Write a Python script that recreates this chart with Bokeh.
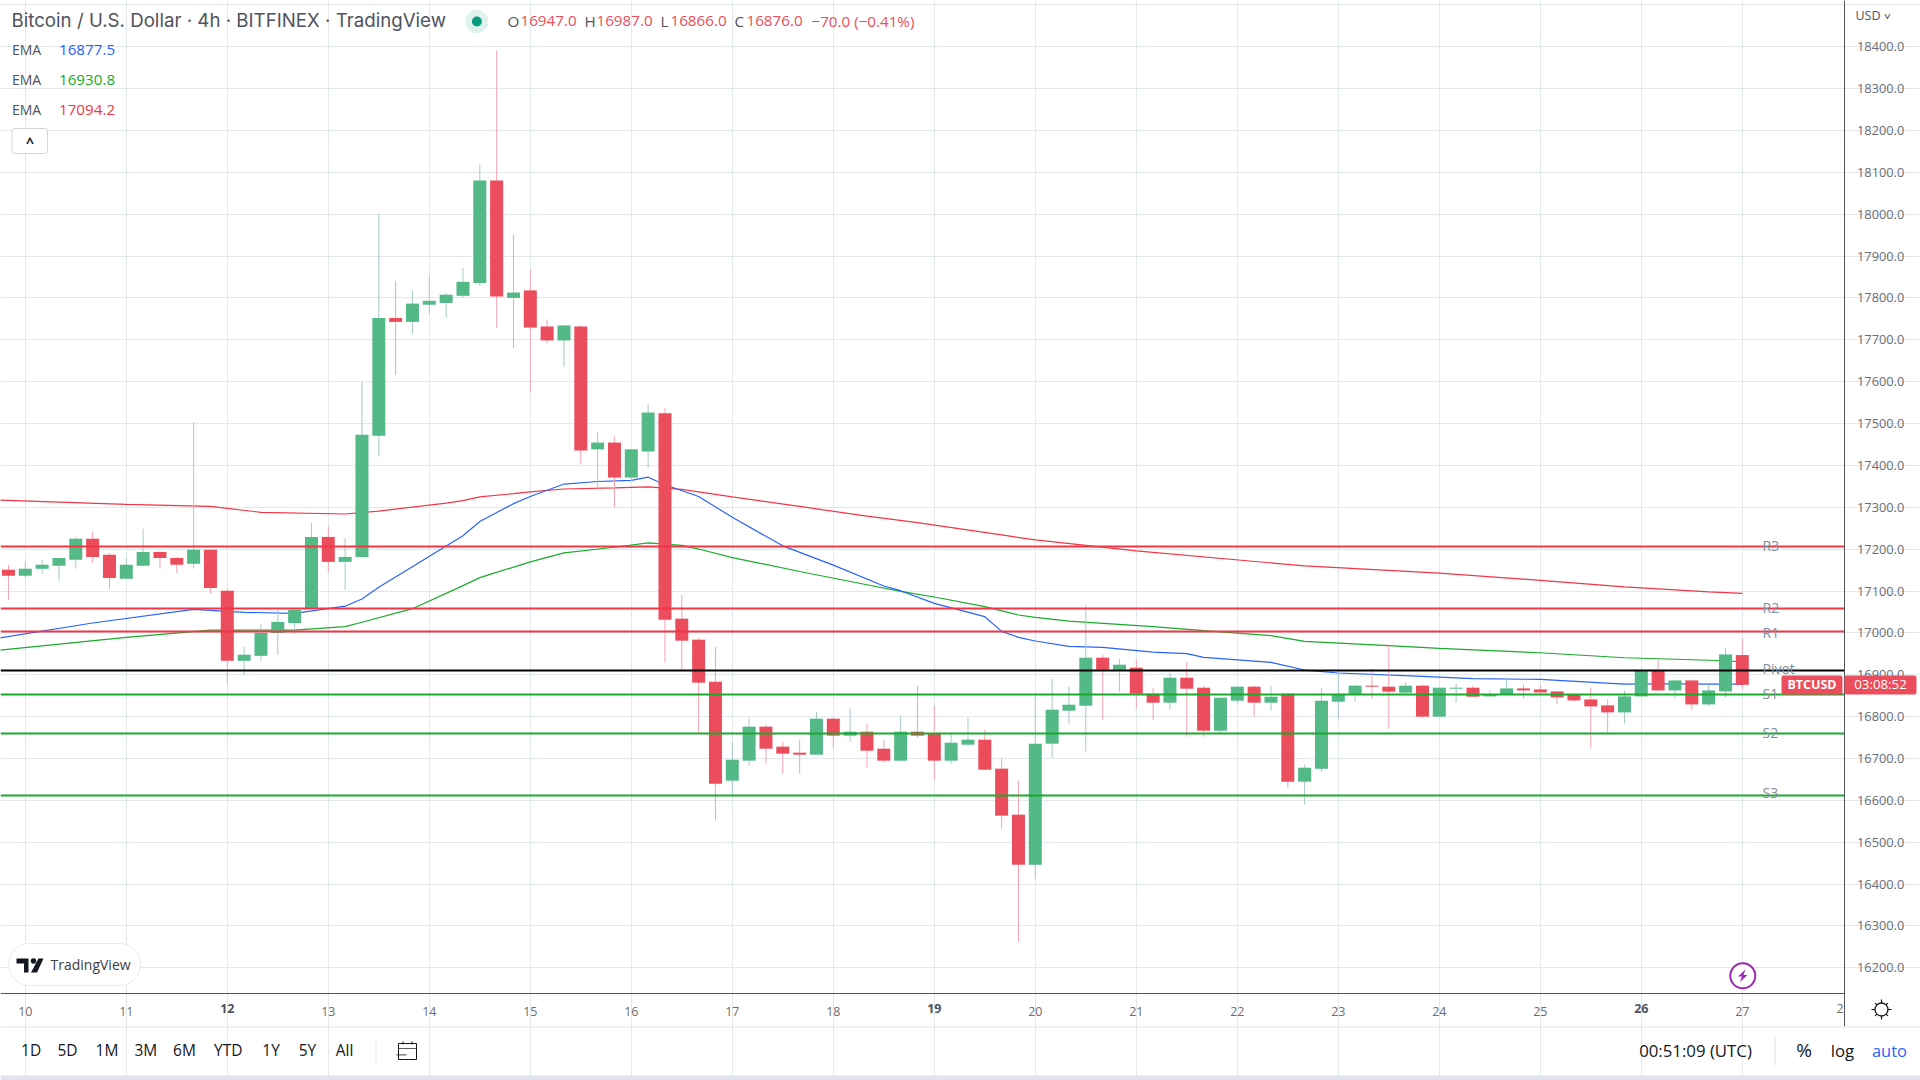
from bokeh.plotting import figure
from bokeh.embed import file_html
from bokeh.resources import INLINE
from bokeh.models import Range1d, FixedTicker, NumeralTickFormatter, Label, BoxAnnotation, PolyAnnotation, ColumnDataSource

# ---------- data ----------
opens = [17150.8,17136.3,17153.4,17160.2,17174.7,17225,17186.6,17129.5,17160.2,17193.5,
 17179,17165.3,17198.6,17100.5,16933.2,16945.2,16999.8,17023.7,17057.8,17229.3,
 17169.6,17181.5,17470.8,17752.3,17742.9,17783.9,17788.1,17805.2,17835.9,18080.9,
 17800.2,17818.1,17731.9,17698.6,17731.9,17438.4,17454.6,17371,17433.3,17524.6,
 17033.9,16983.8,16883.4,16647,16694.8,16776,16728.2,16713.9,16709.1,16795.1,
 16754.5,16764,16723.4,16694.8,16764,16759.2,16694.8,16733,16744.9,16675.7,
 16565.8,16446.3,16735.4,16814.2,16826.1,16940.8,16912.1,16916.9,16854.8,16833.3,
 16893,16869.1,16766.4,16838.1,16871.5,16833.3,16854.8,16644.6,16675.7,16835.7,
 16852.4,16873.9,16871.5,16857.2,16873.9,16799.9,16866.7,16869.1,16848.3,16853.1,
 16867.4,16865,16860.2,16853.1,16841.1,16826.8,16810.1,16848.3,16910.4,16862.6,
 16886.5,16829.2,16860.2,16947]
highs = [17162.8,17172.1,17174.7,17179,17229.3,17241.2,17190.9,17179,17248.9,17196,
 17181.5,17504,17198.6,17105.6,16966.5,17022,17055.2,17055.2,17262.6,17253.2,
 17226.7,17599.6,18000.6,17841,17817.2,17853,17812,17871.8,18120,18391.4,
 17952,17868.4,17749,17734.5,17734.5,17478.5,17469.1,17438.4,17545.9,17538.2,
 17091.3,16988.5,16967.1,16740.1,16795.1,16780.7,16740.1,16744.9,16811.8,16797.5,
 16819,16783.1,16744.9,16802.2,16873.9,16826.1,16759.2,16797.5,16768.8,16701.9,
 16647,16850,16890.6,16871.5,17067.4,16947.9,16938.4,16936,16869.1,16904.9,
 16931.2,16873.9,16845.2,16871.5,16873.9,16873.9,16854.8,16685.2,16869.1,16909.7,
 16876.3,16914.5,16969.4,16881.1,16876.3,16869.1,16878.7,16873.9,16862.6,16893.7,
 16876.9,16874.5,16860.2,16855.4,16869.8,16841.1,16862.6,16915.2,16936.7,16886.5,
 16886.5,16876.9,16965.3,16987]
lows = [17079.1,17132,17141.4,17124.4,17153.4,17167,17105.6,17129.5,17160.2,17153.4,
 17143.1,17153.4,17093.6,16880.3,16900,16933.2,16947.7,16998.1,17057.8,17145.7,
 17103,17179,17421.3,17616.7,17714.8,17762.6,17752.3,17800.1,17829.1,17728.5,
 17680.7,17574.9,17691.8,17634.6,17402.6,17341.2,17300.2,17362.5,17393.2,16929.6,
 16911.3,16761.6,16551.4,16613.5,16682.8,16687.6,16663.7,16663.7,16709.1,16725.8,
 16740.1,16678,16690,16694.8,16749.7,16649.4,16687.6,16730.6,16673.2,16532.3,
 16262.4,16412.9,16701.9,16783.1,16716.2,16792.7,16859.6,16819,16792.7,16816.6,
 16752.1,16752.1,16759.2,16830.9,16799.9,16814.2,16630.3,16589.7,16668.5,16795.1,
 16835.7,16842.8,16771.2,16852.4,16797.5,16799.9,16833.3,16847.6,16848.3,16853.1,
 16843.5,16857.8,16829.2,16836.3,16724.1,16762.3,16783.8,16848.3,16860.2,16843.5,
 16814.8,16824.4,16845.9,16866]
closes = [17136.3,17153.4,17162.8,17179,17225,17181.5,17131.2,17162.8,17193.5,17179,
 17162.8,17198.6,17107.3,16933.2,16947.7,16999.8,17026.2,17055.2,17229.3,17169.6,
 17181.5,17473.3,17752.3,17742.9,17786.5,17793.3,17807.8,17838.5,18080.9,17803.6,
 17813,17729.3,17698.6,17734.5,17435.8,17454.6,17371,17438.4,17526.3,17031.5,
 16981.4,16881.1,16639.8,16697.1,16776,16723.4,16711.5,16709.1,16795.1,16754.5,
 16764,16718.6,16694.8,16764,16754.5,16694.8,16737.7,16744.9,16673.2,16563.4,
 16446.3,16735.4,16816.6,16828.5,16940.8,16912.1,16924.1,16854.8,16833.3,16893,
 16866.7,16766.4,16845.2,16871.5,16833.3,16847.6,16644.6,16678,16838.1,16852.4,
 16873.9,16871.5,16859.6,16873.9,16799.9,16869.1,16869.1,16847.6,16853.1,16867.4,
 16862.6,16857.8,16845.9,16838.7,16824.4,16810.1,16848.3,16910.4,16862.6,16886.5,
 16829.2,16862.6,16948.6,16876]

# EMA vertices: bar number (4h bars after the 10th) and value
ema_red_bar = [-2,6,11,14,19,21,25,26,27,29,30,32,35,37,39,40,42,46,50,53,58,60,66,76,84,90,95,100,102]
ema_red_val = [17318,17307,17302,17288,17284,17291,17310,17316,17325,17332.6,17337,17343.7,17346.2,17348.8,17342.8,
               17337,17325,17302,17279,17263.5,17234,17222,17196,17160,17143,17125.4,17110,17098,17094.2]
ema_green_bar = [-2,6,11,16,19,20,23,26,27,30,32,35,37,39,40,42,46,50,52,54,57,59,60,62,67,70,74,76,81,84,90,95,101,102]
ema_green_val = [16957,16989.5,17006.6,17006.6,17015.1,17025.4,17057.8,17113,17132,17169.6,17191,17204.6,17214.9,17208.9,17200.3,
                 17179.9,17146.6,17115,17099.2,17085.7,17062.6,17042.7,17037,17028,17014.8,17005.3,16993.3,16979.8,16969.4,16962.9,16952.6,16940.6,16933.5,16930.8]
ema_blue_bar = [-2,4,10,13,16,19,20,21,26,27,29,30,32,34,36,37,38,40,42,45,48,51,52,54,57,58,59,60,62,64,67,69,70,74,76,78,83,86,90,95,98,100,102]
ema_blue_val = [16985,17023.7,17056,17049.2,17046.7,17063.8,17080.8,17109,17232,17266,17308.7,17325.8,17355.6,17361.6,17364.2,17371.9,
                17354,17325.8,17276,17208,17162,17112,17100.8,17070.6,17038.7,17003.7,16989.3,16980.6,16968,16965.5,16954.3,16950.3,16941.6,
                16929.6,16911.3,16904.2,16896.2,16890.6,16888.9,16877.7,16878.5,16877.7,16877.5]

pivot_names = ["R3","R2","R1","Pivot","S1","S2","S3"]
pivot_vals  = [17206.4,17058.3,17003.3,16910.2,16852.8,16759.7,16611.6]
pivot_cols  = ["#f23645","#f23645","#f23645","#000000","#1aaa2c","#1aaa2c","#1aaa2c"]
pivot_lab_y = [546,608,632.7,669,694,732.7,793]

price_ticks = list(range(16200,18500,100))
grid_prices = price_ticks+[18500]
day_ticks = list(range(10,28))
plain_days = {d:str(d) for d in day_ticks}
bold_days = [12,19,26]
ranges_ = ["1D","5D","1M","3M","6M","YTD","1Y","5Y","All"]
ranges_x = [30.6,67,106.5,145.3,184,227.8,270.6,307,344]

# ---------- geometry ----------
FONT = "Open Sans"
UP, DN = "#53b987", "#eb4d5c"
UPW, DNW = "#a6c9cb", "#f7a2ae"
GRID = "#e1e8ee"
AX = "#50535e"
W, H = 1920, 1080
PX, PY = 1843.5, 992.5      # axis positions on the page
DAYPX = 101.0
def xd(px): return 10 + (px-24.8)/DAYPX
YSC = 0.41864
def yd(py): return 18400 - (py-46.3)/YSC
def sx(px): return px
def sy(py): return H-py

p = figure(width=W, height=H, output_backend="svg", toolbar_location=None,
           x_range=Range1d(xd(0),xd(W)), y_range=Range1d(yd(H),yd(0)),
           y_axis_location="right", min_border_left=0, min_border_top=0,
           min_border_right=0, min_border_bottom=0, tools="")
p.outline_line_color=None
p.background_fill_color="#ffffff"

p.xaxis.ticker = FixedTicker(ticks=day_ticks)
p.xaxis.major_label_overrides = {d:("" if d in bold_days else s) for d,s in plain_days.items()}
p.xaxis.fixed_location = yd(PY)
p.xaxis.bounds = (xd(0),xd(PX))
p.yaxis.ticker = FixedTicker(ticks=price_ticks)
p.yaxis.formatter = NumeralTickFormatter(format="0.0")
p.yaxis.fixed_location = xd(PX)
p.yaxis.bounds = (yd(1026),yd(0))
for ax in (p.xaxis[0],p.yaxis[0]):
    ax.axis_line_color=AX; ax.axis_line_width=1
    ax.major_tick_line_color=None; ax.minor_tick_line_color=None
    ax.major_label_text_font=FONT
    ax.major_label_text_color="#6a6d78"
p.yaxis.major_label_text_font_size="12.8px"
p.yaxis.major_label_standoff=7
p.xaxis.major_label_text_font_size="12.5px"
p.xaxis.major_label_standoff=8
p.xgrid.ticker=FixedTicker(ticks=day_ticks)
p.ygrid.ticker=FixedTicker(ticks=grid_prices)
p.xgrid.bounds=(yd(PY),yd(0))
p.ygrid.bounds=(xd(0),xd(PX))
p.xgrid.grid_line_color=GRID; p.ygrid.grid_line_color=GRID
p.xgrid.grid_line_width=1; p.ygrid.grid_line_width=1

# ---------- candles ----------
t=[10+(i-1)/6 for i in range(len(opens))]
top=[max(o,c) for o,c in zip(opens,closes)]
bot=[min(o,c) for o,c in zip(opens,closes)]
body=[UP if c>=o else DN for o,c in zip(opens,closes)]
wick=[UPW if c>=o else DNW for o,c in zip(opens,closes)]
src=ColumnDataSource(dict(t=t,h=highs,l=lows,top=top,bot=bot,body=body,wick=wick))

def bt(b): return 10+b/6
p.line([bt(b) for b in ema_red_bar],ema_red_val,line_color="#f23645",line_width=1.2)
p.line([bt(b) for b in ema_green_bar],ema_green_val,line_color="#1aaa2c",line_width=1.2)
p.line([bt(b) for b in ema_blue_bar],ema_blue_val,line_color="#2962ff",line_width=1.2)

p.segment("t","h","t","l",source=src,line_color="wick",line_width=1)
p.vbar(x="t",top="top",bottom="bot",width=13/DAYPX,source=src,fill_color="body",line_color=None)

for v,c in zip(pivot_vals,pivot_cols):
    p.line([xd(0),xd(PX)],[v,v],line_color=c,line_width=2)

# ---------- texts & chrome ----------
def lab(px,py,text,color="#131722",size=14,align="left",bold=False,font=FONT,**kw):
    l=Label(x=sx(px),y=sy(py-1.2),x_units="screen",y_units="screen",text=text,text_color=color,
            text_font_size=f"{size}px",text_align=align,text_baseline="middle",text_font=font,
            text_font_style="bold" if bold else "normal",**kw)
    p.add_layout(l); return l
def box(x0,x1,y0,y1,fill="#ffffff",line=None,radius=0,lw=1,falpha=1):
    b=BoxAnnotation(left=sx(x0),right=sx(x1),top=sy(y0),bottom=sy(y1),
                    left_units="screen",right_units="screen",top_units="screen",bottom_units="screen",
                    fill_color=fill,fill_alpha=falpha,line_color=line,line_alpha=1,line_width=lw,border_radius=radius,level="annotation")
    p.add_layout(b); return b

for name,y in zip(pivot_names,pivot_lab_y):
    lab(1762,y,name,"#7f8ea0",14)

# bold day labels, cut-off label
for d in bold_days:
    p.add_layout(Label(x=d,y=sy(1008),x_units="data",y_units="screen",text=str(d),text_color="#50535e",
                       text_font_size="12.5px",text_font=FONT,text_font_style="bold",text_align="center",text_baseline="middle"))
lab(1836,1009,"2","#6a6d78",12.5)

# separators, bottom band
box(0,1920,1026,1027,fill="#e0e3eb")
box(0,1920,1075,1080,fill="#e0e3eb")
box(375,376,1037,1065,fill="#e0e3eb")
box(1774,1775,1037,1065,fill="#e0e3eb")

# price tag
box(1781,1842,675,694,fill=DN,radius=2)
box(1844,1916,675,694,fill=DN,radius=2)
lab(1811.5,685,"BTCUSD","#ffffff",12.5,"center",bold=True)
lab(1880,685,"03:08:52","#ffffff",13.3,"center")

# header
lab(11,21.5,"Bitcoin / U.S. Dollar \u00b7 4h \u00b7 BITFINEX \u00b7 TradingView","#50535e",18.7,font="Inter")
p.scatter([xd(476.4)],[yd(21)],size=23,marker="circle",fill_color="#dff2ee",line_color=None,level="overlay")
p.scatter([xd(476.4)],[yd(21)],size=10,marker="circle",fill_color="#089981",line_color=None,level="overlay")
for x,s,c in [(507,"O","#50535e"),(520,"16947.0",DN),(584,"H","#50535e"),(596,"16987.0",DN),(660,"L","#50535e"),
              (670,"16866.0",DN),(734,"C","#50535e"),(746,"16876.0",DN),(811,"\u221270.0 (\u22120.41%)",DN)]:
    lab(x,21.5,s,c,15.2)
for y,v,c in [(50.5,"16877.5","#2962ff"),(80.5,"16930.8","#1aaa2c"),(110.5,"17094.2","#f23645")]:
    lab(11.5,y,"EMA","#50535e",14)
    lab(58.5,y,v,c,15.2)
box(11.5,47,128,153,line="#d1d4dc",radius=3)
lab(29.5,143,"^","#131722",14,"center",bold=True)

# USD menu
lab(1855,16.5,"USD","#50535e",12.5)
lab(1887,16,"\u02c5","#131722",11,"center",bold=True)

# logo
box(8,140,943,985,line="#e8e9ed",radius=21)
lab(50,965,"TradingView","#3c3f48",14)
logo_x=[[16,28,28,23.5,23.5,16],[38,43,36.5,30.5]]
logo_y=[[958,958,972,972,963,963],[958,958,972,972]]
p.patches([[xd(a) for a in xs] for xs in logo_x],[[yd(b) for b in ys] for ys in logo_y],
          fill_color="#131722",line_color=None,level="overlay")
p.scatter([xd(33)],[yd(960.5)],size=5.5,marker="circle",fill_color="#131722",line_color=None,level="overlay")

# lightning
p.scatter([xd(1742.3)],[yd(975.3)],size=25,marker="circle",fill_color="#ffffff",line_color="#9c27b0",line_width=2,level="overlay")
p.patch([xd(a) for a in [1745,1737.5,1741.5,1739.5,1747,1743]],[yd(b) for b in [969,976,976,981.5,974.5,974.5]],
        fill_color="#9c27b0",line_color=None,level="overlay")

# bottom row
for s,x in zip(ranges_,ranges_x):
    lab(x,1051,s,"#131722",15.5,"center")
lab(1695,1051,"00:51:09 (UTC)","#131722",16.8,"center")
lab(1803.7,1051,"%","#131722",19,"center")
lab(1842,1051,"log","#131722",16.8,"center")
lab(1889,1051,"auto","#2962ff",16.5,"center")

# gear
for m in ("cross","x"):
    p.scatter([xd(1881)],[yd(1009)],size=20 if m=="cross" else 18,marker=m,line_color="#131722",line_width=1.2,level="overlay")
p.scatter([xd(1881)],[yd(1009)],size=13,marker="circle",fill_color="#ffffff",line_color="#131722",line_width=1.3,level="overlay")

# calendar icon
def poly(xs,ys):
    p.add_layout(PolyAnnotation(xs=[sx(a) for a in xs],ys=[sy(b) for b in ys],xs_units="screen",ys_units="screen",
                 fill_alpha=0,line_alpha=1,line_color="#131722",line_width=1))
poly([404,398,398,416,416,408],[1059,1059,1043,1043,1059,1059])
box(398,416,1047.5,1048.2,fill="#131722")
box(396,406,1054,1054.8,fill="#131722")
box(402,403,1041,1044,fill="#131722")
box(411,412,1041,1044,fill="#131722")

open("out.html","w").write(file_html(p,INLINE))
